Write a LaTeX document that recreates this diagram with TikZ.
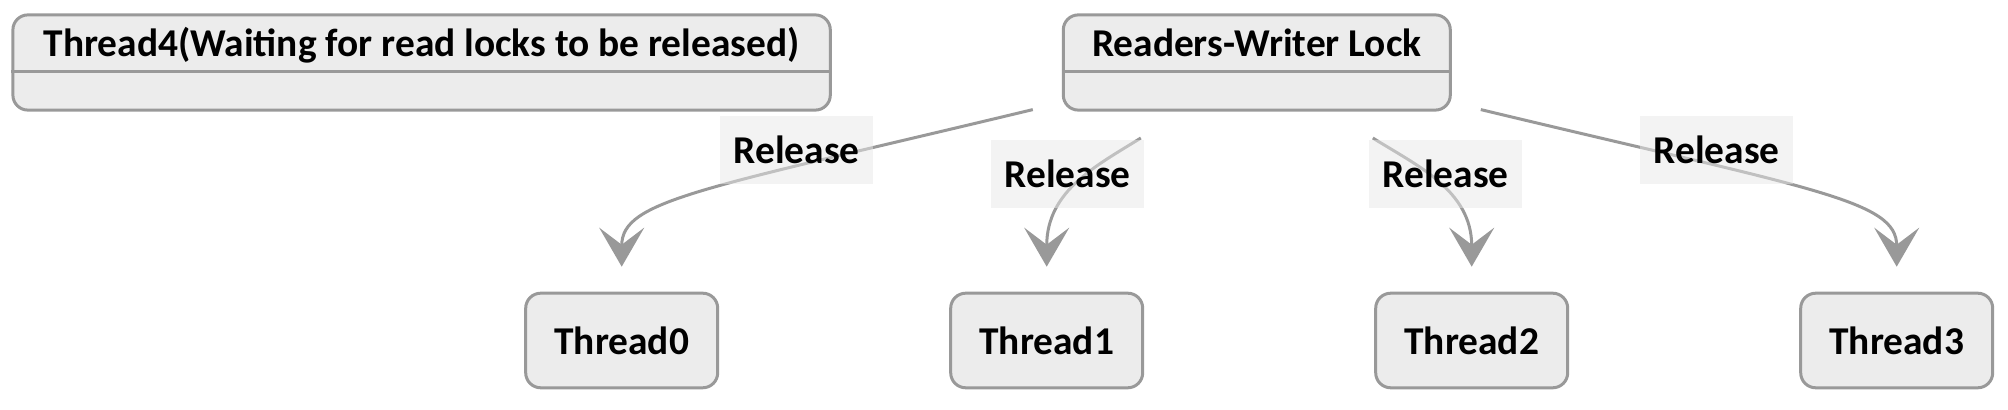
\documentclass[tikz,border=0pt]{standalone}
\usepackage{fontspec}
\setmainfont{Carlito}
\usepackage{xcolor}
\usepackage{tikz}
\usetikzlibrary{calc}
\usetikzlibrary{positioning}
\usetikzlibrary{arrows.meta}

\definecolor{boxgray}{HTML}{ECECEC}
\definecolor{linegray}{HTML}{999999}
\definecolor{labelgray}{HTML}{E8E8E8}

\begin{document}
\begin{tikzpicture}[
    every node/.style={font=\fontsize{19.7}{23}\selectfont\bfseries},
    state/.style={draw=linegray, fill=boxgray, line width=1.5pt,
        rounded corners=7.5pt, inner sep=0pt},
    thread/.style={state, minimum width=96pt, minimum height=47.3pt},
    lockbox/.style={state, minimum height=47.6pt},
    edgelabel/.style={fill=labelgray, fill opacity=0.5, text opacity=1,
        inner sep=0pt, minimum width=76.5pt, minimum height=34pt},
    release/.style={draw=linegray, line width=1.5pt, shorten >=12.5pt,
        -{Stealth[length=19.5pt, width=22.5pt, inset=8.5pt]}}
    ]

        \def\d{115pt}

        % keeps the margins of the whole drawing
        \useasboundingbox (0,0) rectangle (1004pt,-205pt);

        % Scope with the lock and the waiting writer
        \begin{scope}
            \node (L) [lockbox, minimum width=193.5pt] at (628.4pt,-31.25pt) {};
            \node (W) [lockbox, minimum width=408.7pt, left=\d of L] {};
            \node (Lname) [anchor=base] at ($(L.north)+(0,-21.7pt)$)
            {Readers-Writer Lock};
            \node (Wname) [anchor=base] at ($(W.north)+(0,-21.7pt)$)
            {Thread4(Waiting for read locks to be released)};
            \draw[linegray, line width=1.5pt]
            ($(L.north west)+(0,-29.2pt)$) -- ($(L.north east)+(0,-29.2pt)$);
            \draw[linegray, line width=1.5pt]
            ($(W.north west)+(0,-29.2pt)$) -- ($(W.north east)+(0,-29.2pt)$);
        \end{scope}

        % the reading threads
        \node (T0) [thread] at (310.85pt,-170.25pt) {Thread0};
        \foreach \x [count=\p from 0] in {1,...,3}
        \node (T\x) [thread, right=\d of T\p] {Thread\x};

        % where the transitions leave the lock
        \coordinate (s0) at ($(L.south)+(-112pt,1pt)$);
        \coordinate (s1) at ($(L.south)+(-58pt,-13.2pt)$);
        \coordinate (s2) at ($(L.south)+(58pt,-13.2pt)$);
        \coordinate (s3) at ($(L.south)+(112pt,1pt)$);

        \begin{scope}
            \foreach \x/\dx/\dy/\up in {0/-166.5/-40/45.85, 1/-21.5/-13.5/50.85,
                2/21.5/-13.5/50.85, 3/166.5/-40/45.85}
            \draw[release] (s\x) .. controls +(\dx pt,\dy pt)
            and +(0,\up pt) .. (T\x.north);
        \end{scope}

        % labels on the transitions
        \node (r0) [edgelabel] at ($(L.south)+(-230pt,-19.15pt)$) {Release};
        \node (r1) [edgelabel] at ($(L.south)+(-94.5pt,-31.15pt)$) {Release};
        \node (r2) [edgelabel] at ($(L.south)+(94.5pt,-31.15pt)$) {Release};
        \node (r3) [edgelabel] at ($(L.south)+(230pt,-19.15pt)$) {Release};

\end{tikzpicture}
\end{document}
